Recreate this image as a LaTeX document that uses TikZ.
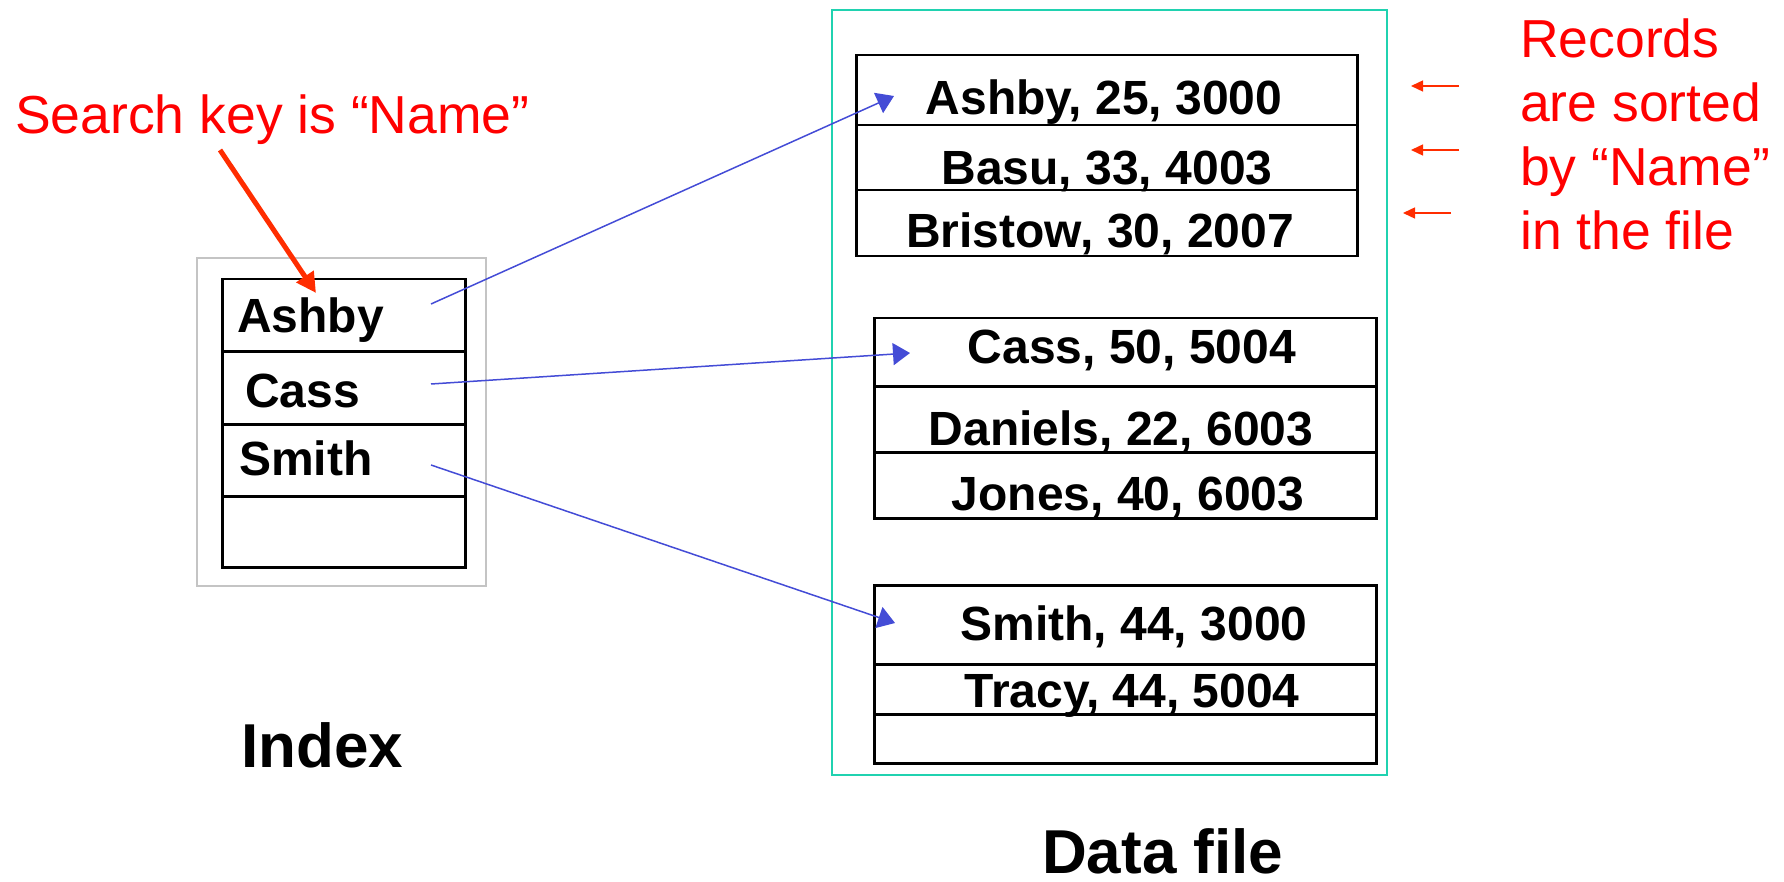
\documentclass[tikz,border=0pt]{standalone}
\usepackage{fontspec}
\setmainfont{Liberation Sans}
\usetikzlibrary{arrows.meta}
\definecolor{keyred}{RGB}{255,0,0}
\definecolor{arrowred}{RGB}{255,45,0}
\definecolor{ptrblue}{RGB}{68,76,214}
\definecolor{fileteal}{RGB}{32,210,176}
\definecolor{idxgrey}{RGB}{196,196,196}
\begin{document}
\begin{tikzpicture}[x=1pt,y=-1pt,
  recfont/.style={font=\fontsize{48}{48}\selectfont\bfseries},
  rec/.style={recfont, anchor=base, inner sep=0pt},
  key/.style={recfont, anchor=base west, inner sep=0pt},
  title/.style={font=\fontsize{62}{62}\selectfont\bfseries, anchor=base west, inner sep=0pt},
  note/.style={font=\fontsize{53.5}{64}\selectfont, text=keyred, inner sep=0pt},
  cell/.style={draw=black, line width=2.5pt, anchor=north west, inner sep=0pt},
  ptr/.style={draw=ptrblue, line width=1.5pt, -{Triangle[length=17pt,width=22pt]}},
  hint/.style={draw=arrowred, line width=1.5pt, -{Triangle[length=12pt,width=11pt]}},
  pick/.style={draw=arrowred, line width=5pt, -{Triangle[length=20pt,width=20pt]}},
]
\useasboundingbox (0,0) rectangle (1784,882);

% ---------- index ----------
\node[draw=idxgrey, line width=2pt, anchor=north west, minimum width=289pt, minimum height=328pt, inner sep=0pt] (ixframe) at (196,257) {};
\node[cell, minimum width=243pt, minimum height=72pt] (i1) at (221,278) {};
\node[cell, minimum width=243pt, minimum height=73pt] (i2) at (221,350) {};
\node[cell, minimum width=243pt, minimum height=72pt] (i3) at (221,423) {};
\node[cell, minimum width=243pt, minimum height=71pt] (i4) at (221,495) {};
\node[key] (kAshby) at (237,332) {Ashby};
\node[key] (kCass) at (245,407) {Cass};
\node[key] (kSmith) at (239,475) {Smith};
\node[title] (ixlabel) at (241,767) {Index};

% ---------- data file ----------
\node[draw=fileteal, line width=2pt, anchor=north west, minimum width=555pt, minimum height=765pt, inner sep=0pt] (fframe) at (831,9) {};

% block 1
\node[cell, minimum width=501pt, minimum height=70pt] (b1r1) at (855,54) {};
\node[cell, minimum width=501pt, minimum height=65pt] (b1r2) at (855,124) {};
\node[cell, minimum width=501pt, minimum height=66pt] (b1r3) at (855,189) {};
\node[rec] (rAshby) at (1104,115) {Ashby, 25, 3000};
\node[rec] (rBasu) at (1107,185) {Basu, 33, 4003};
\node[rec] (rBristow) at (1100,248) {Bristow, 30, 2007};

% block 2
\node[cell, minimum width=502pt, minimum height=68pt] (b2r1) at (873,317) {};
\node[cell, minimum width=502pt, minimum height=66pt] (b2r2) at (873,385) {};
\node[cell, minimum width=502pt, minimum height=66pt] (b2r3) at (873,451) {};
\node[rec] (rCass) at (1132,363) {Cass, 50, 5004};
\node[rec] (rDaniels) at (1121,445) {Daniels, 22, 6003};
\node[rec] (rJones) at (1128,510) {Jones, 40, 6003};

% block 3
\node[cell, minimum width=502pt, minimum height=79pt] (b3r1) at (873,584) {};
\node[cell, minimum width=502pt, minimum height=50pt] (b3r2) at (873,663) {};
\node[cell, minimum width=502pt, minimum height=49pt] (b3r3) at (873,713) {};
\node[rec] (rSmith) at (1134,640) {Smith, 44, 3000};
\node[rec] (rTracy) at (1132,707) {Tracy, 44, 5004};

\node[title] (flabel) at (1042,873) {Data file};

% ---------- pointers from index entries to records ----------
\coordinate (pA) at (431,304);
\coordinate (pC) at (431,384);
\coordinate (pS) at (431,465);
\coordinate (tA) at (894,96);
\coordinate (tC) at (910,353);
\coordinate (tS) at (895,623);
\draw[ptr] (pA) -- (tA);
\draw[ptr] (pC) -- (tC);
\draw[ptr] (pS) -- (tS);

% ---------- annotations ----------
\node[note, anchor=base west] (searchkey) at (15,134) {Search key is “Name”};
\coordinate (kTip) at (316,293);
\draw[pick] (220,150) -- (kTip);

\node[note, anchor=north west, align=left] (sorted) at (1520,13)
  {\strut Records\\\strut are sorted\\\strut by “Name”\\\strut in the file};
\coordinate (h1s) at (1459,86);  \coordinate (h1e) at (1411,86);
\coordinate (h2s) at (1459,150); \coordinate (h2e) at (1411,150);
\coordinate (h3s) at (1451,213); \coordinate (h3e) at (1403,213);
\draw[hint] (h1s) -- (h1e);
\draw[hint] (h2s) -- (h2e);
\draw[hint] (h3s) -- (h3e);
\end{tikzpicture}
\end{document}
